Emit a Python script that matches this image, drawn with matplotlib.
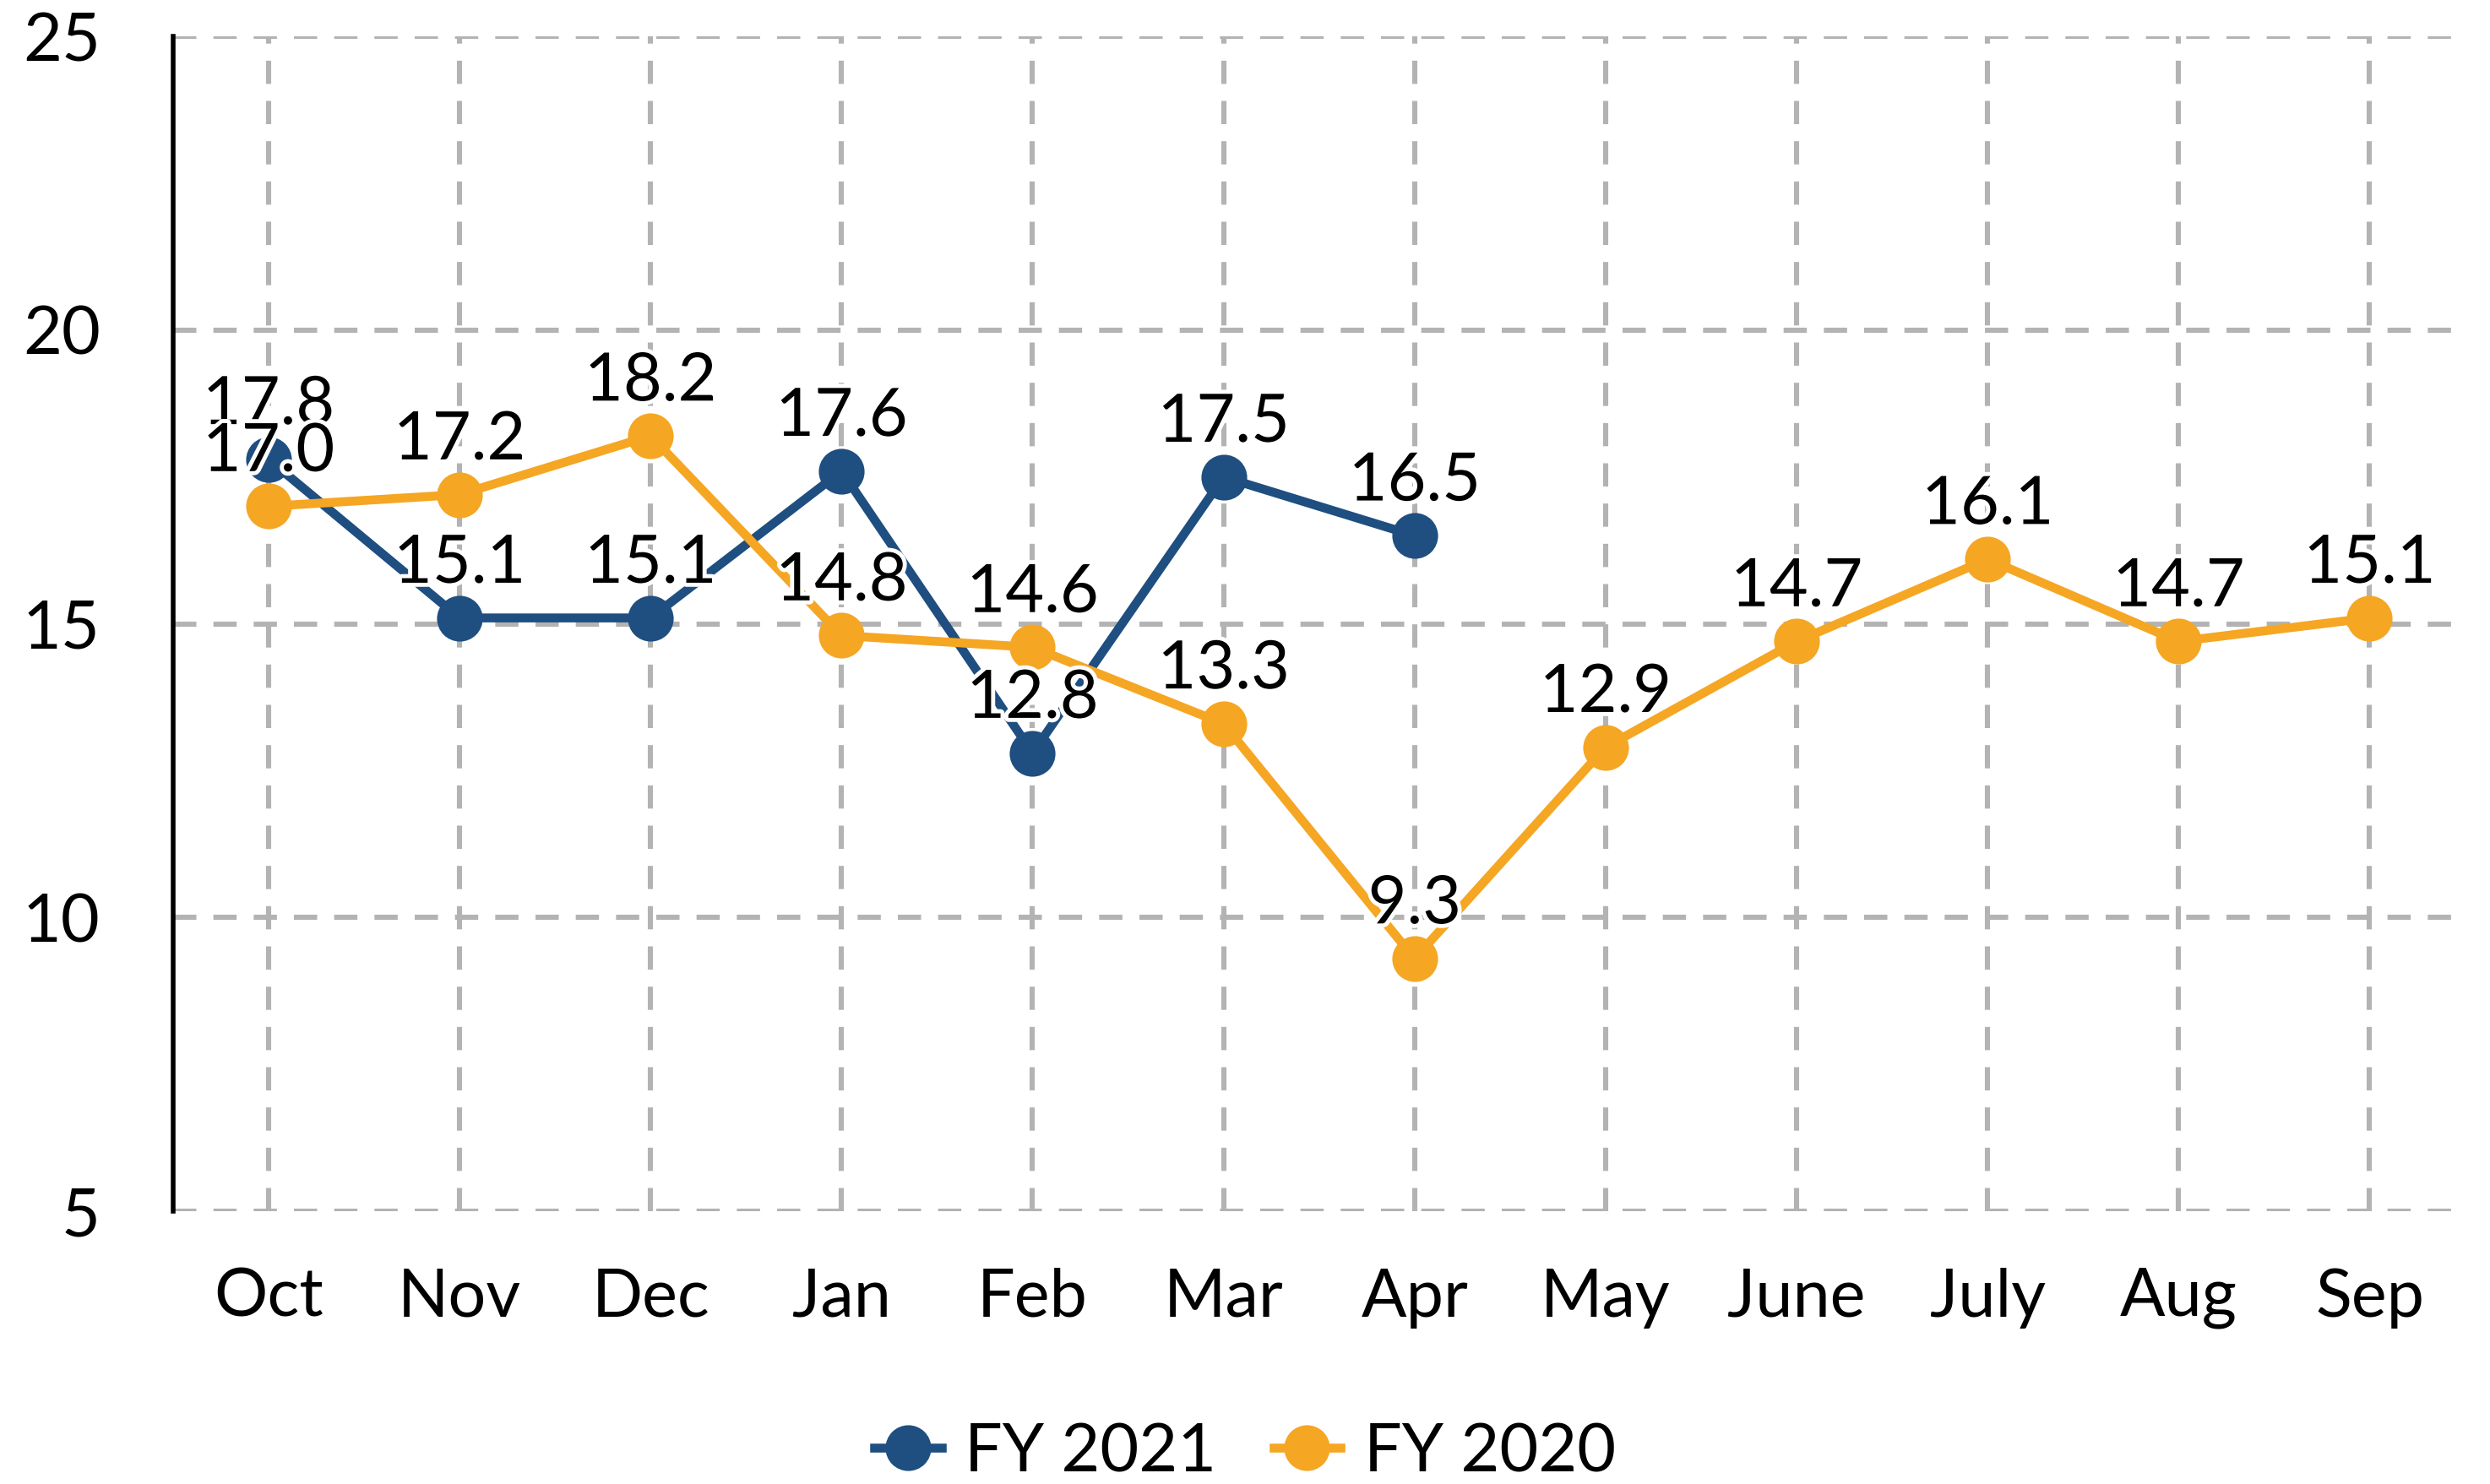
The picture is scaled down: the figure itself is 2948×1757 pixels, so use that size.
import matplotlib
matplotlib.use("Agg")
import matplotlib.pyplot as plt
import matplotlib.patheffects as pe

plt.rcParams['font.family'] = ['Lato', 'DejaVu Sans']

months = ["Oct", "Nov", "Dec", "Jan", "Feb", "Mar", "Apr", "May", "June", "July", "Aug", "Sep"]
fy2021 = [17.8, 15.1, 15.1, 17.6, 12.8, 17.5, 16.5]
fy2020 = [17.0, 17.2, 18.2, 14.8, 14.6, 13.3, 9.3, 12.9, 14.7, 16.1, 14.7, 15.1]
yticks = [5, 10, 15, 20, 25]

BLUE = "#1f4e80"
ORANGE = "#f5a623"
FS = 28.5

fig = plt.figure(figsize=(14.74, 8.785), dpi=200)
ax = fig.add_axes([0.0695, 0.1838, 0.9205, 0.7917])

x21 = list(range(len(fy2021)))
x20 = list(range(len(fy2020)))

ax.plot(x21, fy2021, color=BLUE, lw=3.8, marker='o', ms=18.5, label="FY 2021", zorder=3)
ax.plot(x20, fy2020, color=ORANGE, lw=3.8, marker='o', ms=18.5, label="FY 2020", zorder=4)

stroke = [pe.withStroke(linewidth=3.5, foreground='white')]
for xs, ys in ((x21, fy2021), (x20, fy2020)):
    for xi, yi in zip(xs, ys):
        ax.annotate(f"{yi:.1f}", (xi, yi), xytext=(0, 15), textcoords='offset points',
                    ha='center', va='baseline', fontsize=FS, color='black',
                    path_effects=stroke, zorder=6)

ax.set_xlim(-0.5, 11.5)
ax.set_ylim(5, 25)
ax.set_xticks(range(len(months)))
ax.set_xticklabels(months)
ax.set_yticks(yticks)
ax.tick_params(axis='both', length=0, labelsize=FS)
ax.tick_params(axis='y', pad=31)
ax.tick_params(axis='x', pad=24)

for s in ['top', 'right', 'bottom']:
    ax.spines[s].set_visible(False)
ax.spines['left'].set_color('black')
ax.spines['left'].set_linewidth(2.0)

ax.grid(True, color='#b3b3b3', lw=2.2, linestyle=(0, (4.5, 3.3)), zorder=0)
ax.set_axisbelow(True)

fig.legend(loc='center', bbox_to_anchor=(0.5, 0.021), ncol=2, frameon=False,
           fontsize=FS, handlelength=1.0, handletextpad=0.35, columnspacing=0.85)

fig.savefig("out.png", dpi=200, facecolor='white')
